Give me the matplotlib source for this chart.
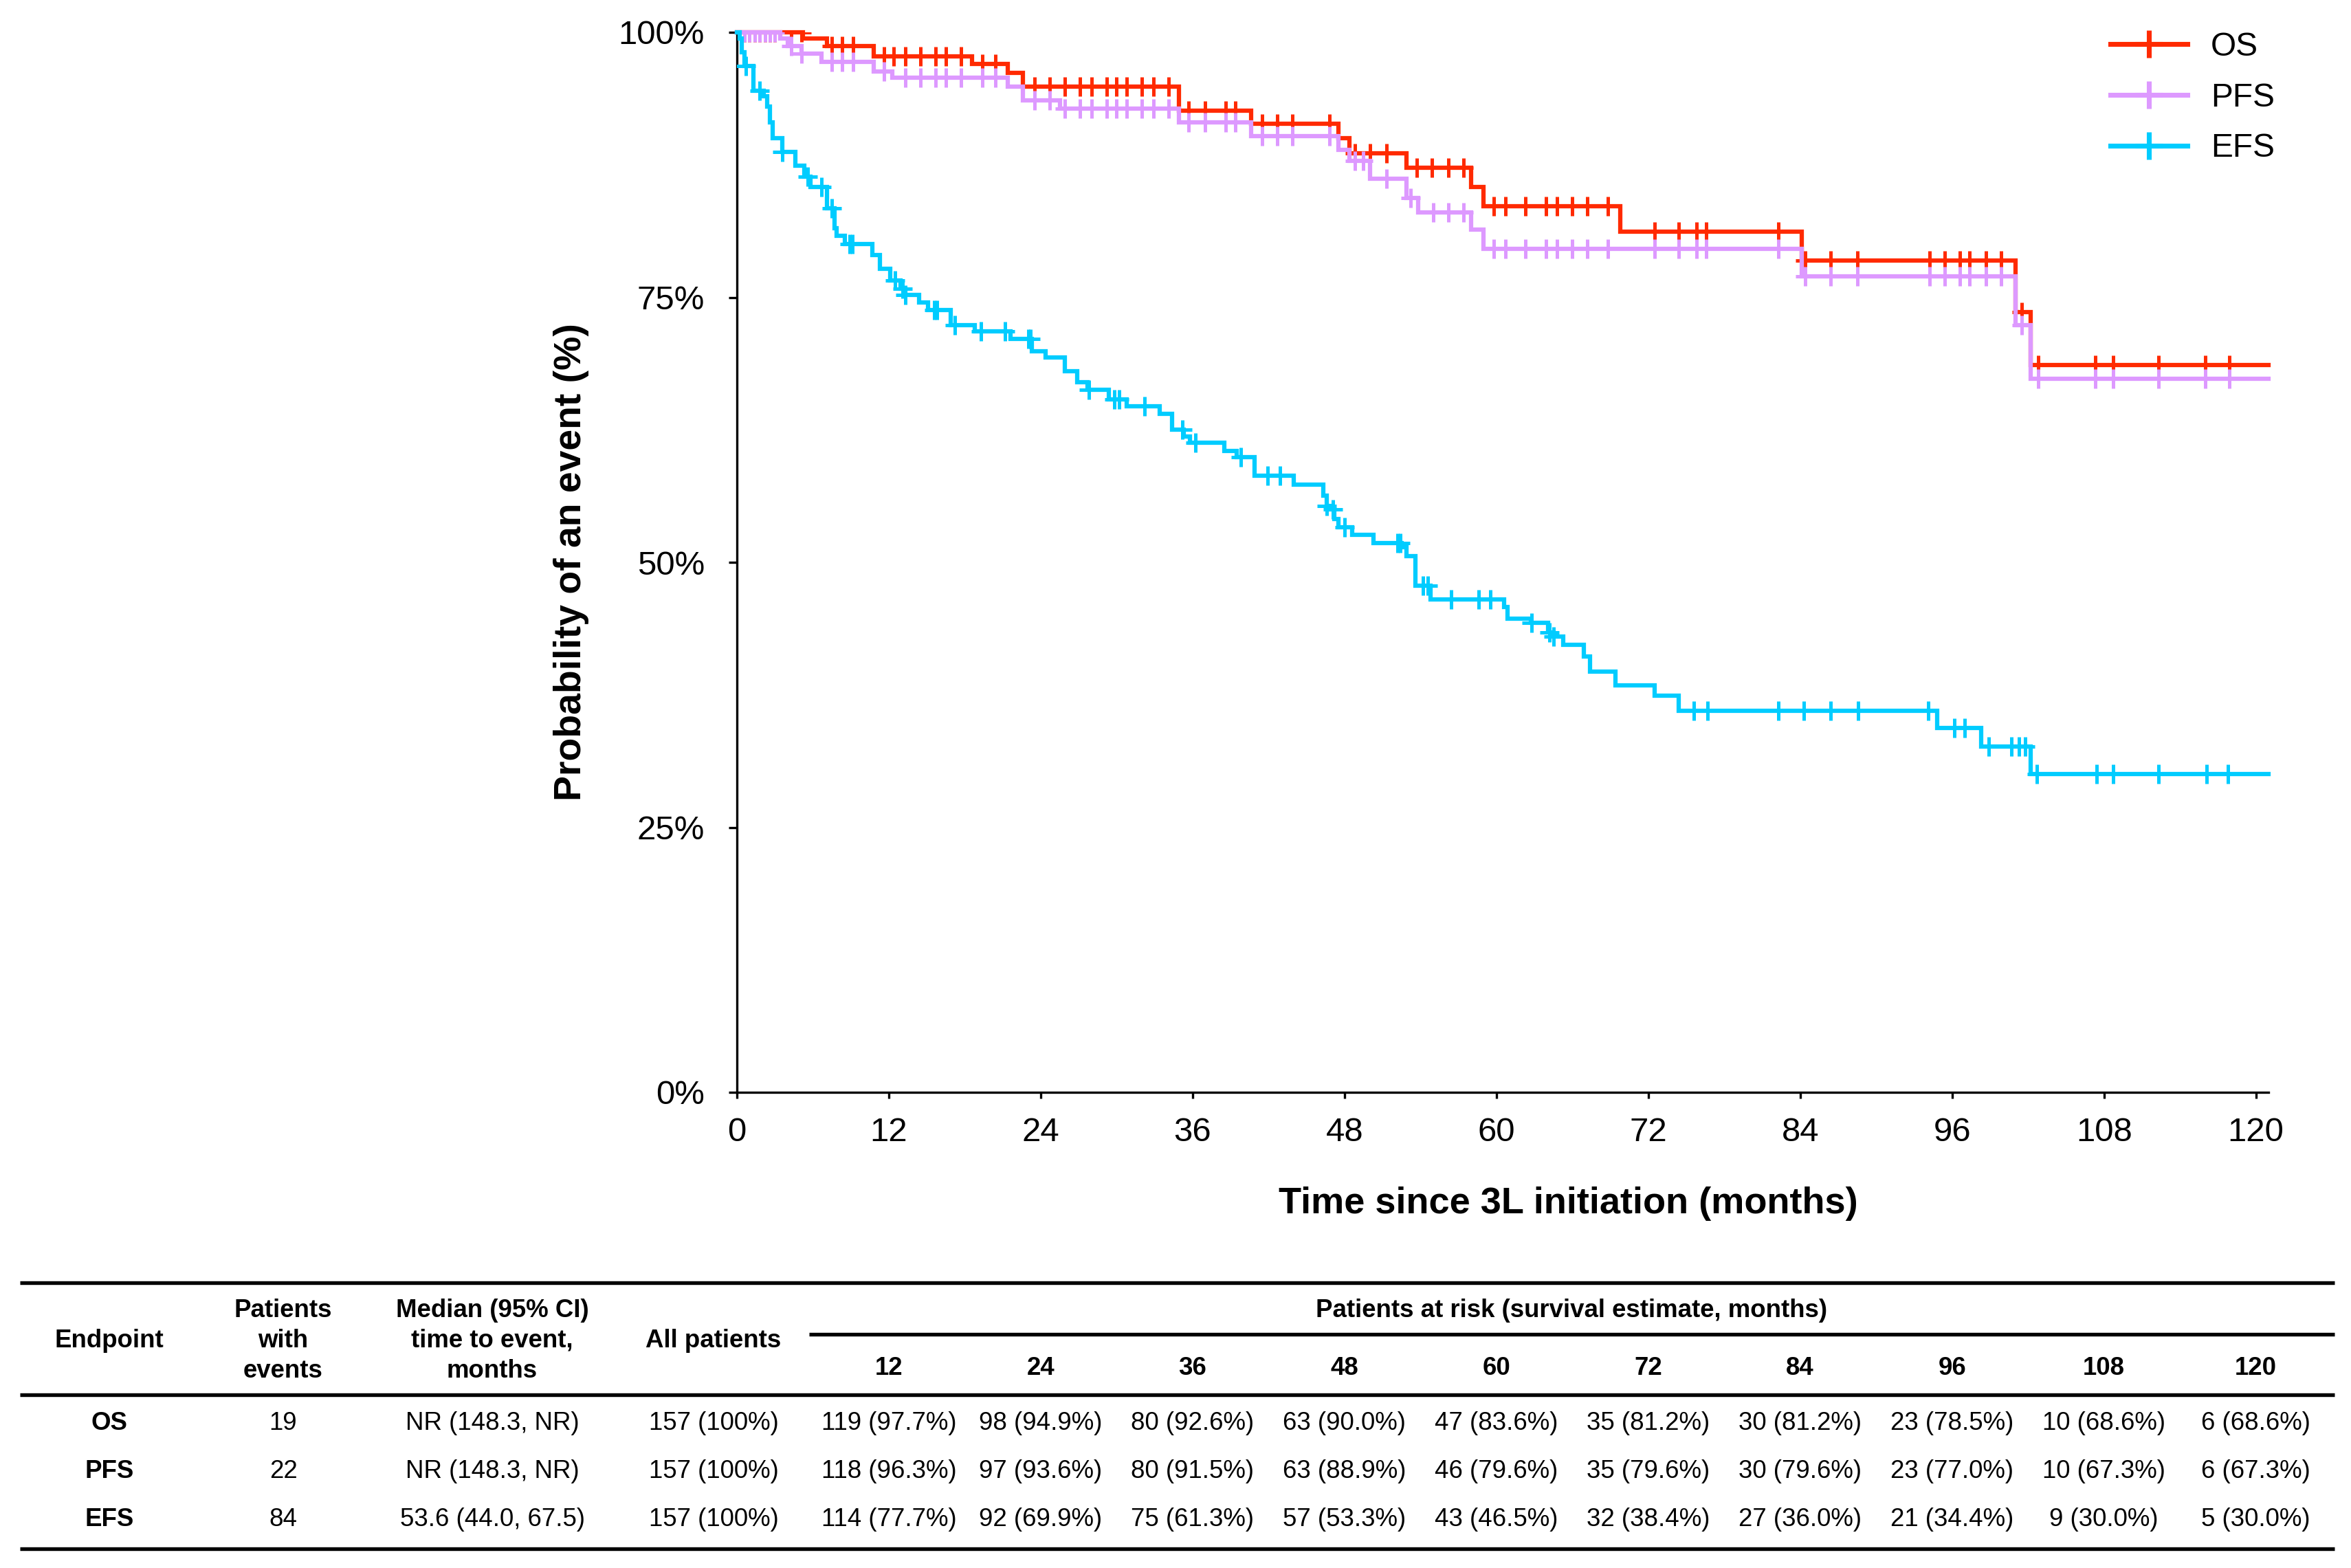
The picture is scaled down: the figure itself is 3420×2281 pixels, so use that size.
import matplotlib
matplotlib.use('Agg')
import matplotlib.pyplot as plt
import numpy as np
from matplotlib.lines import Line2D
from matplotlib.transforms import blended_transform_factory

# ---------------- data ----------------
OS_t = [0, 5.2, 7.1, 10.8, 18.6, 21.4, 22.6, 34.9, 40.6, 47.5, 48.4, 52.9, 58.0, 59.0, 69.8, 84.1, 101.0, 102.2]
OS_s = [100, 99.4, 98.7, 97.7, 97.0, 96.2, 94.9, 92.6, 91.4, 90.0, 88.6, 87.2, 85.4, 83.6, 81.2, 78.5, 73.6, 68.6]
OS_c = [0.6, 1.0, 1.4, 1.8, 2.2, 2.6, 3.0, 4.3, 5.1, 7.5, 8.3, 9.2, 11.6, 12.4, 13.3, 14.5, 15.7, 16.5, 17.7,
        19.4, 20.4, 23.5, 24.7, 25.9, 27.1, 28.0, 29.2, 30.0, 30.8, 32.0, 32.9, 34.1, 35.7, 37.0, 38.6, 39.4,
        41.5, 42.7, 43.9, 46.8, 48.8, 50.0, 51.3, 53.7, 54.9, 56.2, 57.4, 59.8, 60.7, 62.3, 63.9, 64.8, 66.0,
        67.2, 68.8, 72.5, 74.4, 75.8, 76.6, 82.3, 84.4, 86.4, 88.5, 94.2, 95.4, 96.6, 97.4, 98.7, 99.9, 101.5,
        102.8, 107.3, 108.7, 112.3, 116.0, 117.9]

PFS_t = [0, 3.4, 4.0, 5.1, 6.7, 10.8, 12.3, 21.4, 22.6, 25.5, 34.9, 40.6, 47.5, 48.4, 50.0, 52.9, 53.8, 58.0,
         59.0, 84.1, 101.0, 102.2]
PFS_s = [100, 99.4, 98.7, 98.0, 97.2, 96.3, 95.7, 94.9, 93.6, 92.8, 91.5, 90.2, 88.9, 87.9, 86.2, 84.4, 83.0, 81.4,
         79.6, 77.0, 72.4, 67.3]
PFS_c = [0.6, 1.0, 1.4, 1.8, 2.2, 2.6, 3.0, 4.3, 5.1, 7.5, 8.3, 9.2, 11.6, 13.3, 14.5, 15.7, 16.5, 17.7, 19.4,
         20.4, 23.5, 24.7, 25.9, 27.1, 28.0, 29.2, 30.0, 30.8, 32.0, 32.9, 34.1, 35.7, 37.0, 38.6, 39.4, 41.5,
         42.7, 43.9, 46.8, 48.8, 49.5, 51.3, 53.2, 55.0, 56.2, 57.4, 59.8, 60.7, 62.3, 63.9, 64.8, 66.0, 67.2,
         68.8, 72.5, 74.4, 75.8, 76.6, 82.3, 84.4, 86.4, 88.5, 94.2, 95.4, 96.6, 97.4, 98.7, 99.9, 101.5, 102.8,
         107.3, 108.7, 112.3, 116.0, 117.9]

EFS_t = [0, 0.2, 0.4, 0.6, 1.3, 2.1, 2.4, 2.6, 2.8, 3.6, 4.6, 5.3, 5.8, 7.1, 7.7, 7.9, 8.5, 10.7, 11.3, 12.1,
         12.9, 13.3, 14.4, 15.1, 16.9, 18.8, 21.6, 23.3, 24.4, 25.9, 26.9, 27.7, 29.4, 30.8, 33.4, 34.4, 35.3,
         35.8, 38.5, 39.5, 40.9, 44.0, 46.3, 46.6, 46.9, 47.2, 47.5, 48.6, 50.3, 52.5, 52.9, 53.6, 54.8, 60.6,
         60.9, 62.7, 64.1, 64.5, 65.3, 66.9, 67.4, 69.4, 72.5, 74.4, 94.8, 98.3, 102.2]
EFS_s = [100, 99.4, 98.1, 96.8, 94.5, 94.0, 93.0, 91.5, 90.0, 88.7, 87.4, 86.4, 85.4, 83.4, 81.5, 80.8, 80.0,
         79.0, 77.7, 76.6, 75.8, 75.2, 74.5, 73.8, 72.4, 71.8, 71.1, 69.9, 69.3, 68.0, 67.0, 66.3, 65.4, 64.7,
         64.0, 62.5, 61.9, 61.3, 60.5, 59.9, 58.2, 57.3, 56.3, 55.3, 55.0, 54.1, 53.3, 52.6, 51.8, 51.4, 50.6,
         47.8, 46.5, 45.8, 44.7, 44.3, 43.4, 43.0, 42.2, 41.1, 39.7, 38.4, 37.4, 36.0, 34.4, 32.6, 30.0]
EFS_c = [0.7, 1.8, 3.6, 5.6, 6.7, 7.5, 8.9, 9.1, 12.5, 13.1, 13.3, 15.6, 15.8, 17.2, 19.3, 21.2, 23.0, 23.2,
         27.8, 29.8, 30.2, 32.2, 35.2, 36.2, 39.8, 41.9, 42.9, 46.6, 47.1, 48.0, 52.2, 52.4, 54.2, 54.6, 56.4,
         58.6, 59.5, 62.8, 64.2, 64.5, 75.6, 76.7, 82.3, 84.3, 86.4, 88.6, 94.1, 96.2, 97.0, 98.9, 100.7, 101.3,
         101.8, 102.7, 107.4, 108.7, 112.3, 116.1, 117.8]

series_names = ["OS", "PFS", "EFS"]
series_colors = ["#FF2A00", "#DD99FF", "#00CCFF"]

x_ticks = [0, 12, 24, 36, 48, 60, 72, 84, 96, 108, 120]
y_ticks = [0, 25, 50, 75, 100]
y_ticklabels = ["0%", "25%", "50%", "75%", "100%"]

tbl_endpoints = ["OS", "PFS", "EFS"]
tbl_events = ["19", "22", "84"]
tbl_median = ["NR (148.3, NR)", "NR (148.3, NR)", "53.6 (44.0, 67.5)"]
tbl_all = ["157 (100%)", "157 (100%)", "157 (100%)"]
tbl_months = [12, 24, 36, 48, 60, 72, 84, 96, 108, 120]
tbl_risk_OS = ["119 (97.7%)", "98 (94.9%)", "80 (92.6%)", "63 (90.0%)", "47 (83.6%)", "35 (81.2%)",
               "30 (81.2%)", "23 (78.5%)", "10 (68.6%)", "6 (68.6%)"]
tbl_risk_PFS = ["118 (96.3%)", "97 (93.6%)", "80 (91.5%)", "63 (88.9%)", "46 (79.6%)", "35 (79.6%)",
                "30 (79.6%)", "23 (77.0%)", "10 (67.3%)", "6 (67.3%)"]
tbl_risk_EFS = ["114 (77.7%)", "92 (69.9%)", "75 (61.3%)", "57 (53.3%)", "43 (46.5%)", "32 (38.4%)",
                "27 (36.0%)", "21 (34.4%)", "9 (30.0%)", "5 (30.0%)"]

# ---------------- figure ----------------
plt.rcParams['font.family'] = ['Liberation Sans', 'DejaVu Sans']
W, H = 3420, 2281
fig = plt.figure(figsize=(W / 300, H / 300), dpi=300)


def fx(px):
    return px / W


def fy(py):
    return 1 - py / H


XMAX = 121
ax = fig.add_axes([fx(1072), fy(1589), fx(3300) - fx(1072), fy(47) - fy(1589)])
ax.set_xlim(0, XMAX)
ax.set_ylim(0, 100)

curves = [(OS_t, OS_s, OS_c), (PFS_t, PFS_s, PFS_c), (EFS_t, EFS_s, EFS_c)]
for i, ((t, s, c), name, col) in enumerate(zip(curves, series_names, series_colors)):
    t = np.asarray(t, float)
    s = np.asarray(s, float)
    ax.step(np.append(t, XMAX), np.append(s, s[-1]), where='post', color=col, lw=1.5,
            zorder=2 + i, clip_on=False, solid_joinstyle='miter')
    c = np.asarray(c, float)
    cy = s[np.searchsorted(t, c, side='right') - 1]
    ax.plot(c, cy, ls='none', marker='+', ms=6.5, mew=1.2, color=col, zorder=2 + i)

for sp in ['top', 'right']:
    ax.spines[sp].set_visible(False)
for sp in ['left', 'bottom']:
    ax.spines[sp].set_linewidth(0.8)
ax.set_xticks(x_ticks)
ax.set_xticklabels([str(v) for v in x_ticks])
ax.set_yticks(y_ticks)
ax.set_yticklabels(y_ticklabels)
ax.tick_params(axis='x', length=2.2, width=0.8, pad=6.5, labelsize=11.8, direction='out')
ax.tick_params(axis='y', length=2.8, width=0.8, pad=8.5, labelsize=11.8, direction='out')

ax.set_xlabel("Time since 3L initiation (months)", fontsize=13, fontweight='bold', va='center')
ax.xaxis.set_label_coords(0.5426, -0.1050)
ax.set_ylabel("Probability of an event (%)", fontsize=13.3, fontweight='bold', va='center')
ax.yaxis.set_label_coords(-0.1082, 0.5)

handles = [Line2D([], [], color=col, lw=1.7, marker='+', ms=9.6, mew=1.7) for col in series_colors]
ax.legend(handles, series_names, loc='upper left', bbox_to_anchor=(fx(3070), fy(46)),
          bbox_transform=fig.transFigure, frameon=False, fontsize=11.5, handlelength=2.34,
          handletextpad=0.7, labelspacing=0.6, borderpad=0, borderaxespad=0)

# ---------------- table ----------------
TFS = 8.8
line_kw = dict(color='black', lw=1.3, solid_capstyle='butt')
for (x0, x1, y) in [(29, 3396, 1866), (1177, 3396, 1941), (29, 3396, 2029), (29, 3396, 2253)]:
    fig.add_artist(Line2D([fx(x0), fx(x1)], [fy(y), fy(y)], transform=fig.transFigure, **line_kw))

hdr = dict(fontsize=TFS, fontweight='bold', ha='center', va='center')
fig.text(fx(159), fy(1950), "Endpoint", **hdr)
for txt, yy in zip(["Patients", "with", "events"], [1906, 1950, 1994]):
    fig.text(fx(412), fy(yy), txt, **hdr)
for txt, yy in zip(["Median (95% CI)", "time to event,", "months"], [1906, 1950, 1994]):
    fig.text(fx(716), fy(yy), txt, **hdr)
fig.text(fx(1038), fy(1950), "All patients", **hdr)
fig.text(fx(2286), fy(1906), "Patients at risk (survival estimate, months)", **hdr)

tr = blended_transform_factory(ax.transData, fig.transFigure)
for m in tbl_months:
    ax.text(m, fy(1990), str(m), transform=tr, **hdr)

row_y = [2070, 2141, 2211]
risk_rows = [tbl_risk_OS, tbl_risk_PFS, tbl_risk_EFS]
for r in range(3):
    y = fy(row_y[r])
    fig.text(fx(159), y, tbl_endpoints[r], **hdr)
    fig.text(fx(412), y, tbl_events[r], fontsize=TFS, ha='center', va='center')
    fig.text(fx(716), y, tbl_median[r], fontsize=TFS, ha='center', va='center')
    fig.text(fx(1038), y, tbl_all[r], fontsize=TFS, ha='center', va='center')
    for m, v in zip(tbl_months, risk_rows[r]):
        ax.text(m, y, v, transform=tr, fontsize=TFS, ha='center', va='center')

fig.savefig("out.png", dpi=300)
